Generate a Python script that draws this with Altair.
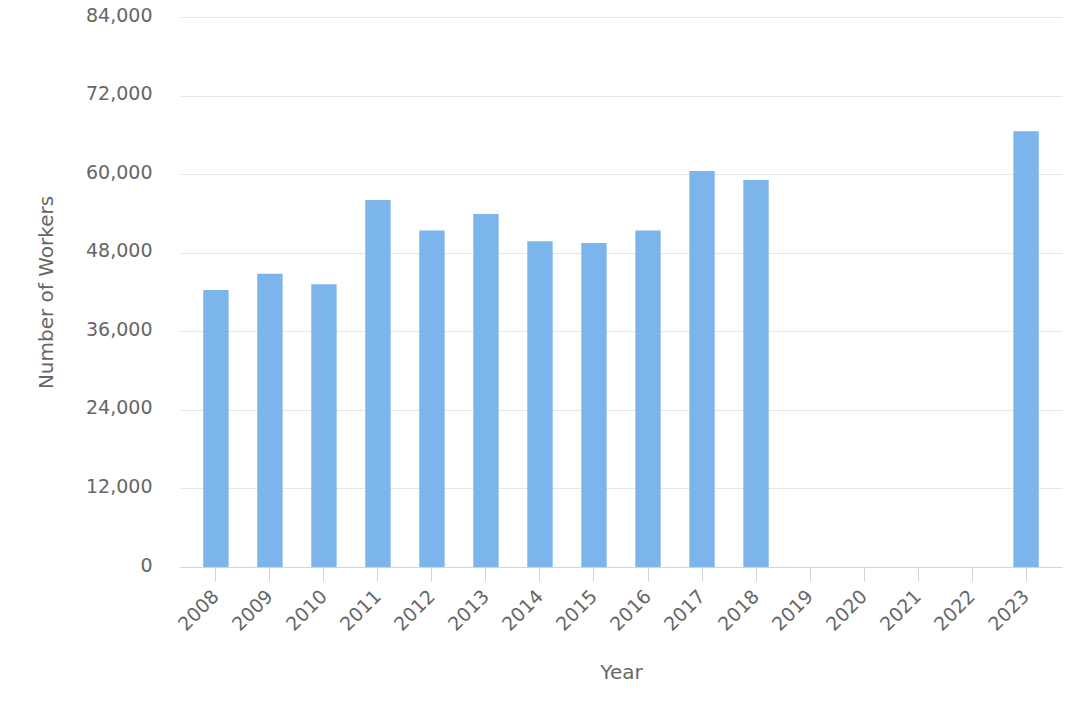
import altair as alt
import pandas as pd

years = [str(y) for y in range(2008, 2024)]
workers = [42300, 44800, 43200, 56050, 51400, 53900, 49750, 49500, 51400,
           60480, 59100, None, None, None, None, 66550]
y_ticks = [0, 12000, 24000, 36000, 48000, 60000, 72000, 84000]

df = pd.DataFrame({"Year": years, "Workers": workers})

FONT = "DejaVu Sans"
LABEL = "#666666"

chart = alt.Chart(df).mark_bar(color="#7cb5ec").encode(
    x=alt.X(
        "Year:N",
        sort=years,
        scale=alt.Scale(domain=years, paddingInner=0.53, paddingOuter=0.43),
        axis=alt.Axis(
            title="Year",
            labelAngle=-45,
            labelAlign="right",
            labelBaseline="middle",
            labelPadding=12,
            labelFont=FONT,
            labelFontSize=19,
            labelColor=LABEL,
            titleFont=FONT,
            titleFontSize=20,
            titleFontWeight="normal",
            titleColor=LABEL,
            titleY=105,
            titleBaseline="middle",
            domainColor="#d0d4dc",
            tickColor="#d0d4dc",
            tickSize=14,
            grid=False,
        ),
    ),
    y=alt.Y(
        "Workers:Q",
        scale=alt.Scale(domain=[0, 84000], nice=False),
        axis=alt.Axis(
            title="Number of Workers",
            values=y_ticks,
            format=",d",
            labelFont=FONT,
            labelFontSize=19,
            labelColor=LABEL,
            labelPadding=28,
            labelOffset=-2,
            titleFont=FONT,
            titleFontSize=20,
            titleFontWeight="normal",
            titleColor=LABEL,
            titleX=-134,
            titleY=275,
            titleAngle=-90,
            titleBaseline="middle",
            titleAlign="center",
            domain=False,
            ticks=False,
            gridColor="#e6e6e6",
        ),
    ),
).properties(
    width=882,
    height=550,
    autosize=alt.AutoSizeParams(type="none"),
    padding={"left": 172, "top": 9, "right": 10, "bottom": 145},
    background="white",
).configure_view(stroke=None)

chart.save("out.html", embed_options={"renderer": "svg", "actions": False})
